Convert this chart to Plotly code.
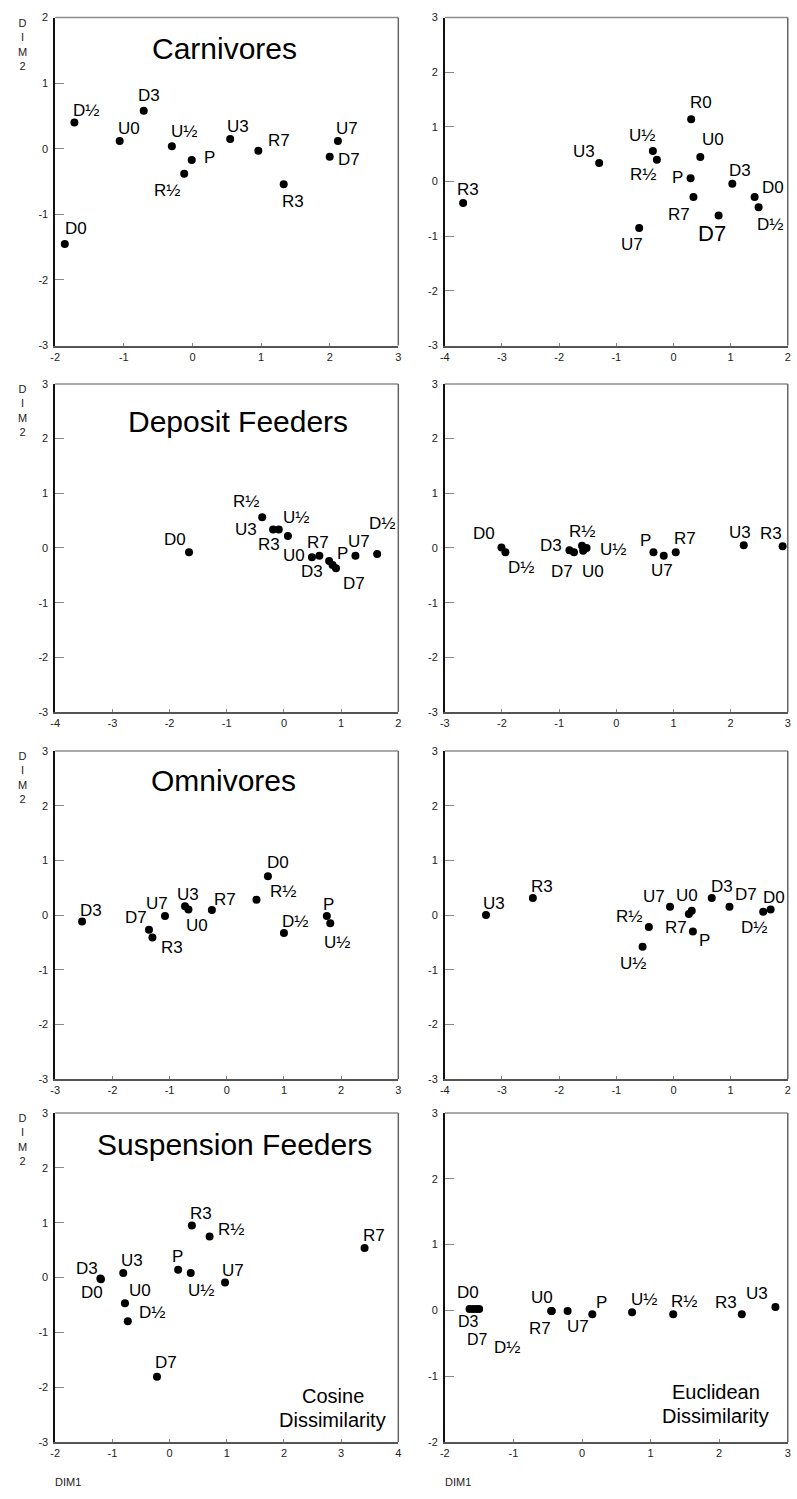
import plotly.graph_objects as go

W, H = 797, 1499
FONT = "Liberation Sans, Arial, sans-serif"

# ---------------- data (DIM1, DIM2) ----------------
CARN_COS_LABELS = ["D0", "D½", "D3", "D7", "U0", "U½", "U3", "U7", "R½", "R3", "R7", "P"]
CARN_COS_X = [-1.86, -1.72, -0.71, 2.00, -1.06, -0.30, 0.55, 2.12, -0.12, 1.33, 0.96, -0.01]
CARN_COS_Y = [-1.45, 0.40, 0.58, -0.12, 0.12, 0.04, 0.15, 0.12, -0.38, -0.54, -0.03, -0.17]

CARN_EUC_LABELS = ["R0", "U½", "R½", "U3", "U0", "P", "D3", "D0", "D½", "R7", "D7", "U7", "R3"]
CARN_EUC_X = [0.31, -0.36, -0.29, -1.30, 0.47, 0.30, 1.03, 1.42, 1.49, 0.35, 0.79, -0.60, -3.68]
CARN_EUC_Y = [1.14, 0.56, 0.40, 0.34, 0.45, 0.06, -0.04, -0.28, -0.47, -0.28, -0.62, -0.85, -0.39]

DEP_COS_LABELS = ["D0", "R½", "U3", "R3", "U½", "U0", "R7", "D3", "P", "D7", "U7", "D½"]
DEP_COS_X = [-1.66, -0.38, -0.19, -0.09, 0.07, 0.49, 0.62, 0.79, 0.85, 0.91, 1.25, 1.63]
DEP_COS_Y = [-0.08, 0.56, 0.34, 0.34, 0.22, -0.17, -0.14, -0.24, -0.31, -0.37, -0.14, -0.11]

DEP_EUC_LABELS = ["D0", "D½", "D3", "D7", "R½", "U0", "U½", "P", "U7", "R7", "U3", "R3"]
DEP_EUC_X = [-2.01, -1.94, -0.82, -0.74, -0.60, -0.58, -0.52, 0.65, 0.83, 1.04, 2.23, 2.91]
DEP_EUC_Y = [0.01, -0.08, -0.04, -0.08, 0.04, -0.05, 0.00, -0.08, -0.14, -0.08, 0.05, 0.03]

OMN_COS_LABELS = ["D3", "D7", "R3", "U7", "U3", "U0", "R7", "R½", "D0", "D½", "P", "U½"]
OMN_COS_X = [-2.53, -1.36, -1.30, -1.08, -0.73, -0.67, -0.26, 0.52, 0.72, 1.00, 1.75, 1.81]
OMN_COS_Y = [-0.12, -0.27, -0.41, -0.02, 0.16, 0.10, 0.09, 0.28, 0.71, -0.33, -0.02, -0.15]

OMN_EUC_LABELS = ["U3", "R3", "R½", "U½", "U7", "U0", "R7", "P", "D3", "D7", "D0", "D½"]
OMN_EUC_X = [-3.28, -2.46, -0.43, -0.54, -0.06, 0.32, 0.27, 0.34, 0.67, 0.98, 1.70, 1.57]
OMN_EUC_Y = [0.00, 0.31, -0.22, -0.58, 0.15, 0.08, 0.02, -0.30, 0.31, 0.15, 0.10, 0.06]

SUS_COS_LABELS = ["D3", "D0", "U3", "U0", "D½", "D7", "P", "U½", "R3", "R½", "U7", "R7"]
SUS_COS_X = [-1.21, -1.20, -0.81, -0.78, -0.73, -0.22, 0.15, 0.37, 0.39, 0.70, 0.97, 3.41]
SUS_COS_Y = [-0.02, -0.03, 0.08, -0.47, -0.80, -1.81, 0.14, 0.08, 0.95, 0.75, -0.09, 0.54]

SUS_EUC_LABELS = ["D0", "D3", "D7", "D½", "U0", "R7", "U7", "P", "U½", "R½", "R3", "U3"]
SUS_EUC_X = [-1.64, -1.59, -1.54, -1.50, -0.45, -0.44, -0.21, 0.15, 0.73, 1.33, 2.33, 2.82]
SUS_EUC_Y = [0.02, 0.02, 0.02, 0.02, -0.01, -0.01, -0.01, -0.06, -0.03, -0.06, -0.06, 0.05]

TITLES = ["Carnivores", "Deposit Feeders", "Omnivores", "Suspension Feeders"]

# ---------------- styles: label offsets (px right, px up) ----------------
OFF_CARN_COS = [(11, 15), (12, 12), (5, 15), (19, -3), (9, 12), (12, 15), (8, 12), (9, 12),
                (-17, -17), (9, -17), (21, 10), (18, 2)]
OFF_CARN_EUC = [(10, 17), (-11, 15), (-14, -15), (-15, 11), (13, 17), (-13, 1), (8, 13),
                (18, 9), (11, -17), (-14, -18), (-7, -18), (-7, -16), (5, 13)]
OFF_DEP_COS = [(-14, 13), (-16, 16), (-27, 0), (-10, -15), (8, 18), (-18, 2), (-1, 13),
               (-17, -10), (10, 11), (18, -15), (4, 14), (5, 30)]
OFF_DEP_EUC = [(-17, 14), (16, -15), (-18, 5), (-12, -19), (0, 14), (10, -21), (26, -2),
               (-8, 12), (-2, -15), (9, 14), (-4, 13), (-12, 13)]
OFF_OMN_COS = [(9, 11), (-13, 12), (20, -10), (-8, 13), (3, 12), (9, -16), (13, 11),
               (27, 8), (10, 14), (11, 12), (2, 12), (7, -19)]
OFF_OMN_EUC = [(8, 12), (9, 12), (-20, 11), (-10, -17), (-16, 10), (-5, 15), (-13, -14),
               (12, -9), (10, 12), (17, 12), (3, 12), (-9, -16)]
OFF_SUS_COS = [(-13, 10), (-9, -13), (9, 13), (15, 13), (24, 9), (9, 14), (-1, 13),
               (10, -17), (9, 12), (21, 7), (8, 12), (9, 12)]
OFF_SUS_EUC = [(-2, 17), (-4, -12), (1, -30), (28, -38), (-9, 14), (-12, -17), (10, -15),
               (9, 12), (12, 13), (11, 13), (-16, 12), (-18, 14)]

PANELS = [
    (CARN_COS_LABELS, CARN_COS_X, CARN_COS_Y, OFF_CARN_COS, [-2, 3], [-3, 2]),
    (CARN_EUC_LABELS, CARN_EUC_X, CARN_EUC_Y, OFF_CARN_EUC, [-4, 2], [-3, 3]),
    (DEP_COS_LABELS, DEP_COS_X, DEP_COS_Y, OFF_DEP_COS, [-4, 2], [-3, 3]),
    (DEP_EUC_LABELS, DEP_EUC_X, DEP_EUC_Y, OFF_DEP_EUC, [-3, 3], [-3, 3]),
    (OMN_COS_LABELS, OMN_COS_X, OMN_COS_Y, OFF_OMN_COS, [-3, 3], [-3, 3]),
    (OMN_EUC_LABELS, OMN_EUC_X, OMN_EUC_Y, OFF_OMN_EUC, [-4, 2], [-3, 3]),
    (SUS_COS_LABELS, SUS_COS_X, SUS_COS_Y, OFF_SUS_COS, [-2, 4], [-3, 3]),
    (SUS_EUC_LABELS, SUS_EUC_X, SUS_EUC_Y, OFF_SUS_EUC, [-2, 3], [-2, 3]),
]

COLS = [(50.7, 397.3), (444.3, 790.7)]
ROWS = [(11.7, 342.3), (381.0, 711.7), (751.0, 1081.7), (1116.0, 1447.5)]


def px_x(p):
    return p / W


def px_y(p):
    return 1 - p / H


fig = go.Figure()
layout = dict(
    width=W, height=H, margin=dict(l=0, r=0, t=0, b=0),
    paper_bgcolor="white", plot_bgcolor="white", showlegend=False,
    font=dict(family=FONT, color="black"),
)
annotations = []
shapes = []

for i, (labels, xs, ys, offs, xr, yr) in enumerate(PANELS):
    row, col = divmod(i, 2)
    n = i + 1
    sfx = "" if n == 1 else str(n)
    xa, ya = "x" + sfx, "y" + sfx
    c0, c1 = COLS[col]
    r0, r1 = ROWS[row]
    xt = list(range(xr[0], xr[1] + 1))
    yt = list(range(yr[0], yr[1] + 1))
    layout["xaxis" + sfx] = dict(
        domain=[px_x(c0), px_x(c1)], range=xr, anchor=ya,
        tickvals=xt, ticktext=[str(v) for v in xt],
        showgrid=False, zeroline=False, showline=True, linecolor="#555", linewidth=1.5,
        ticks="inside", ticklen=3, tickcolor="#888", tickwidth=1,
        tickfont=dict(size=11, color="#222", family=FONT), fixedrange=True,
    )
    layout["yaxis" + sfx] = dict(
        domain=[px_y(r1), px_y(r0)], range=yr, anchor=xa,
        tickvals=yt, ticktext=[str(v) for v in yt],
        showgrid=False, zeroline=False, showline=True, linecolor="#111", linewidth=1.5,
        ticks="inside", ticklen=9, tickcolor="#888", tickwidth=1.2,
        tickfont=dict(size=11, color="#222", family=FONT), fixedrange=True,
        ticklabelstandoff=3,
    )
    # top and right frame lines
    shapes.append(dict(type="line", xref=xa + " domain", yref=ya + " domain",
                       x0=0, x1=1, y0=1, y1=1, line=dict(color="#8c8c8c", width=1.5)))
    shapes.append(dict(type="line", xref=xa + " domain", yref=ya + " domain",
                       x0=1, x1=1, y0=0, y1=1, line=dict(color="#666", width=1.5)))

    fig.add_trace(go.Scatter(
        x=xs, y=ys, mode="markers", xaxis=xa, yaxis=ya,
        marker=dict(size=8, color="black"), hoverinfo="skip",
    ))
    for lab, x, y, (dx, dy) in zip(labels, xs, ys, offs):
        size = 17
        if i == 1 and lab == "D7":
            size = 22
        if i == 7 and lab in ("D3", "D7"):
            size = 16
        annotations.append(dict(
            x=x, y=y, xref=xa, yref=ya, text=lab, showarrow=False,
            xshift=dx, yshift=dy, xanchor="center", yanchor="middle",
            font=dict(size=size, color="black", family=FONT),
        ))

# titles
TITLE_POS = [(221.7, 43), (235, 419), (221, 781), (232, 1147.5)]
for t, (tx, ty) in zip(TITLES, TITLE_POS):
    annotations.append(dict(x=px_x(tx), y=px_y(ty), xref="paper", yref="paper", text=t,
                            showarrow=False, xanchor="center", yanchor="middle",
                            font=dict(size=30, color="black", family=FONT)))

# DIM2 stacked axis labels (left column)
for (r0, r1) in ROWS:
    annotations.append(dict(x=px_x(18), y=px_y(r0 + 27), xref="paper", yref="paper",
                            text="D<br>I<br>M<br>2", showarrow=False, xanchor="center",
                            yanchor="middle", align="center",
                            font=dict(size=11, color="#222", family=FONT)))

# DIM1 labels
for cx in (64, 458):
    annotations.append(dict(x=px_x(cx), y=px_y(1488), xref="paper", yref="paper",
                            text="DIM1", showarrow=False, xanchor="center", yanchor="middle",
                            font=dict(size=11, color="#222", family=FONT)))

# dissimilarity notes
NOTES = [("Cosine", 331, 1401), ("Dissimilarity", 331, 1425),
         ("Euclidean", 718, 1397), ("Dissimilarity", 718, 1421)]
for t, nx, ny in NOTES:
    annotations.append(dict(x=px_x(nx), y=px_y(ny), xref="paper", yref="paper", text=t,
                            showarrow=False, xanchor="center", yanchor="middle",
                            font=dict(size=20, color="black", family=FONT)))

layout["annotations"] = annotations
layout["shapes"] = shapes
fig.update_layout(**layout)
fig.write_html("out.html")
